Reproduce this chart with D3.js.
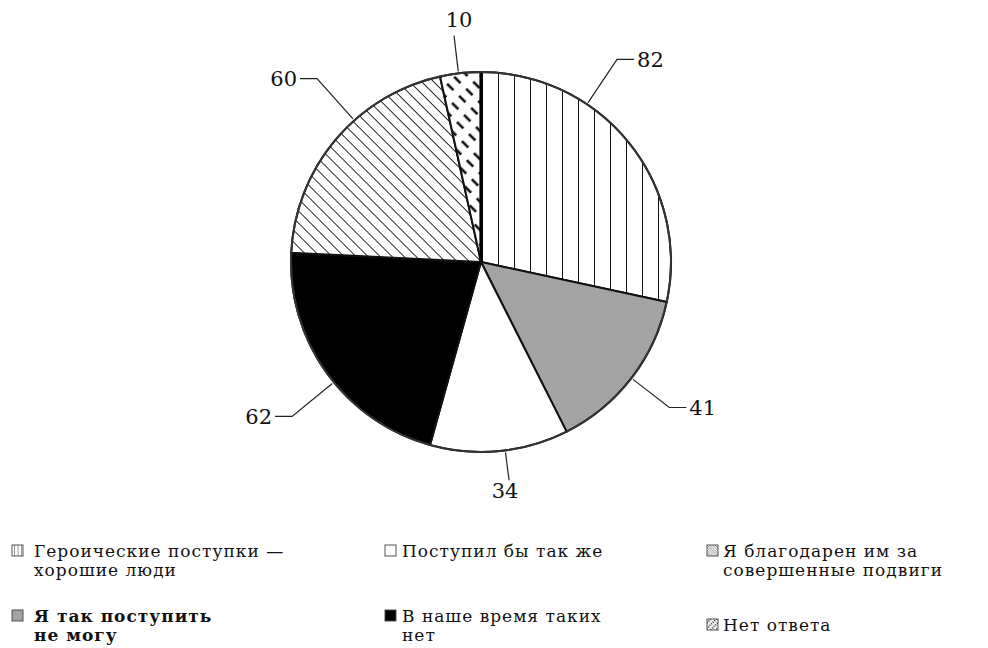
<!DOCTYPE html>
<html>
<head>
<meta charset="utf-8">
<script src="https://cdn.jsdelivr.net/npm/d3@7"></script>
<style>
  body { margin: 0; background: #fff; }
  text { font-family: "DejaVu Serif", "Liberation Serif", serif; fill: #111; }
  .num { font-size: 21px; }
  .legend-text { font-size: 17px; letter-spacing: 1px; }
  .bold { font-weight: bold; }
</style>
</head>
<body>
<svg width="988" height="648"></svg>
<script>
// answers, clockwise from 12 o'clock
const categories = [
  'Героические поступки — хорошие люди',
  'Я так поступить не могу',
  'Поступил бы так же',
  'В наше время таких нет',
  'Я благодарен им за совершенные подвиги',
  'Нет ответа'
];
const values = [82, 41, 34, 62, 60, 10];
const fills = ['vert', 'gray', 'white', 'black', 'diag', 'dash'];

// legend text, broken into lines as in the original
const legendLines = [
  ['Героические поступки —', 'хорошие люди'],
  ['Я так поступить', 'не могу'],
  ['Поступил бы так же'],
  ['В наше время таких', 'нет'],
  ['Я благодарен им за', 'совершенные подвиги'],
  ['Нет ответа']
];

const svg = d3.select('svg');
const cx = 481, cy = 262, radius = 190;

const defs = svg.append('defs');

const makePatterns = (suffix, k, ox) => {
  // vertical lines
  const v = defs.append('pattern')
    .attr('id', 'vert' + suffix)
    .attr('patternUnits', 'userSpaceOnUse')
    .attr('x', ox).attr('width', 16 * k).attr('height', 16 * k);
  v.append('rect').attr('width', 16 * k).attr('height', 16 * k).attr('fill', '#fff');
  v.append('line')
    .attr('x1', 0).attr('x2', 0).attr('y1', 0).attr('y2', 16 * k)
    .attr('stroke', '#111').attr('stroke-width', Math.max(2 * k, 0.8));

  // "\" hatching
  const d = defs.append('pattern')
    .attr('id', 'diag' + suffix)
    .attr('patternUnits', 'userSpaceOnUse')
    .attr('width', 8.5 * k).attr('height', 8.5 * k)
    .attr('patternTransform', 'rotate(-45)');
  d.append('rect').attr('width', 8.5 * k).attr('height', 8.5 * k).attr('fill', '#fff');
  d.append('line')
    .attr('x1', 0).attr('x2', 0).attr('y1', 0).attr('y2', 8.5 * k)
    .attr('stroke', '#111').attr('stroke-width', Math.max(1.8 * k, 0.7));

  // short dashes along "\" lines
  const s = defs.append('pattern')
    .attr('id', 'dash' + suffix)
    .attr('patternUnits', 'userSpaceOnUse')
    .attr('width', 10 * k).attr('height', 17 * k)
    .attr('patternTransform', 'rotate(-45)');
  s.append('rect').attr('width', 10 * k).attr('height', 17 * k).attr('fill', '#fff');
  s.append('line')
    .attr('x1', 2 * k).attr('x2', 2 * k).attr('y1', 3 * k).attr('y2', 12 * k)
    .attr('stroke', '#111').attr('stroke-width', Math.max(2.6 * k, 1));
};

makePatterns('', 1, cx);
makePatterns('-s', 0.22, 0);

const fillFor = (f, suffix) => {
  if (f === 'gray') return '#a3a3a3';
  if (f === 'white') return '#fff';
  if (f === 'black') return '#000';
  return `url(#${f}${suffix})`;
};

const data = values.map((v, i) => ({ value: v, fill: fills[i], label: categories[i] }));

const pie = d3.pie().value(d => d.value).sort(null);
const arcs = pie(data);
const arcGen = d3.arc().innerRadius(0).outerRadius(radius);

const g = svg.append('g').attr('transform', `translate(${cx},${cy})`);

g.selectAll('path.slice')
  .data(arcs)
  .join('path')
  .attr('class', 'slice')
  .attr('d', arcGen)
  .attr('fill', d => fillFor(d.data.fill, ''))
  .attr('stroke', '#111')
  .attr('stroke-width', 2)
  .attr('stroke-linejoin', 'round');

// heavier radius at 12 o'clock
g.append('line')
  .attr('x1', 0).attr('y1', 0).attr('x2', 0).attr('y2', -radius)
  .attr('stroke', '#000').attr('stroke-width', 3.2);

g.append('circle')
  .attr('r', radius)
  .attr('fill', 'none')
  .attr('stroke', '#333')
  .attr('stroke-width', 2);

// leader lines and numbers
const nudge = [-0.30, 0, -0.03, -0.06, 0.14, -0.01]; // radians off the slice middle
const elbowR = [244, 238, 220, 244, 246, 228];
const pt = (a, r) => [Math.sin(a) * r, -Math.cos(a) * r];

arcs.forEach((d, i) => {
  const a = (d.startAngle + d.endAngle) / 2 + nudge[i];
  const p0 = pt(a, radius + 2);
  const p1 = pt(a, elbowR[i]);
  const vertical = Math.abs(Math.sin(a)) < 0.25;
  const dir = Math.sin(a) > 0 ? 1 : -1;
  const pts = [p0, p1];
  if (!vertical) pts.push([p1[0] + dir * 17, p1[1]]);

  g.append('path')
    .attr('d', d3.line()(pts))
    .attr('fill', 'none')
    .attr('stroke', '#222')
    .attr('stroke-width', 1.2);

  const t = g.append('text').attr('class', 'num').text(d.data.value);
  if (vertical) {
    const up = Math.cos(a) > 0;
    t.attr('x', p1[0] + (up ? 5 : -4))
      .attr('y', p1[1] + (up ? -9 : 18))
      .attr('text-anchor', 'middle');
  } else {
    t.attr('x', p1[0] + dir * 20)
      .attr('y', p1[1])
      .attr('dy', '0.36em')
      .attr('text-anchor', dir > 0 ? 'start' : 'end');
  }
});

// legend: 3 columns x 2 rows, column order as in the original
const legendPos = [
  { x: 12, y: 557, col: 0 },
  { x: 12, y: 622, col: 0 },
  { x: 385, y: 557, col: 1 },
  { x: 385, y: 622, col: 1 },
  { x: 707, y: 557, col: 2 },
  { x: 707, y: 631, col: 2 }
];
const textX = [34, 402, 723];

const legend = svg.append('g');
data.forEach((d, i) => {
  const p = legendPos[i];
  const item = legend.append('g');
  item.append('rect')
    .attr('x', p.x).attr('y', p.y - 12)
    .attr('width', 11).attr('height', 11)
    .attr('fill', fillFor(d.fill, '-s'))
    .attr('stroke', '#444').attr('stroke-width', 0.9);
  const txt = item.append('text')
    .attr('class', 'legend-text' + (i === 1 ? ' bold' : ''))
    .attr('x', textX[p.col]).attr('y', p.y);
  legendLines[i].forEach((line, j) => {
    txt.append('tspan')
      .attr('x', textX[p.col])
      .attr('dy', j === 0 ? 0 : 19)
      .text(line);
  });
});
</script>
</body>
</html>
